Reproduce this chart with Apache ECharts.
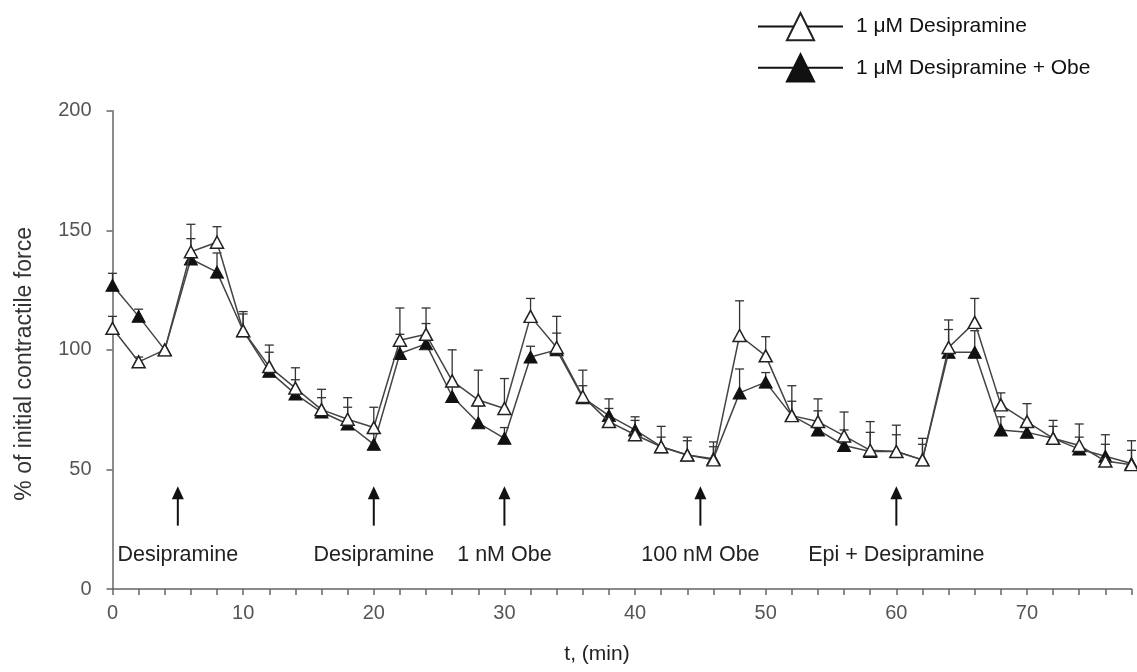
<!DOCTYPE html>
<html>
<head>
<meta charset="utf-8">
<title>Contractile force</title>
<script src="https://cdn.jsdelivr.net/npm/echarts@6/dist/echarts.min.js"></script>
<style>
  html, body { margin: 0; padding: 0; background: #fff; }
  #chart { width: 1137px; height: 672px; }
</style>
</head>
<body>
<div id="chart"></div>
<script>
// Sampling times, minutes
const times = [0, 2, 4, 6, 8, 10, 12, 14, 16, 18, 20, 22, 24, 26, 28, 30, 32, 34, 36, 38,
               40, 42, 44, 46, 48, 50, 52, 54, 56, 58, 60, 62, 64, 66, 68, 70, 72, 74, 76, 78];

// Mean contractile force, % of initial
const desipramine = [109, 95, 100, 141, 145, 108, 93, 84, 75, 71, 67.5, 104, 106.5, 87, 79, 75.5, 114, 101, 80.5, 70,
                     64.5, 59.5, 56, 54, 106, 97.5, 72.5, 70, 64, 58, 57.5, 54, 101, 111.5, 77, 70, 63, 60, 53.5, 52];
const desipramineObe = [127, 114, 100, 138, 132.5, 108, 91, 81.5, 74, 69, 60.5, 98.5, 102.5, 80.5, 69.5, 63, 97, 100, 80, 72.5,
                        66.5, 59.5, 56, 54.5, 82, 86.5, 72.5, 66.5, 60, 57.5, 57.5, 54, 99, 99, 66.5, 65.5, 63, 58.5, 55.5, 52.5];

// Standard error of the mean (upper whiskers)
const desipramineSem = [5, 2, 0, 11.5, 6.5, 8, 9, 8.5, 8.5, 9, 8.5, 13.5, 11, 13, 12.5, 12.5, 7.5, 13, 11, 9.5,
                        7.5, 8.5, 7.5, 7.5, 14.5, 8, 12.5, 9.5, 10, 12, 11, 9, 11.5, 10, 5, 7.5, 7.5, 9, 11, 10];
const desipramineObeSem = [5, 3, 0, 8.5, 8, 7, 8, 6, 6, 7, 4.5, 8, 8.5, 6, 7, 4.5, 4.5, 7, 5, 3,
                           4, 4, 6, 5, 10, 4, 6, 8, 6.5, 8, 7, 6.5, 9.5, 9, 5.5, 4, 5, 5, 5, 5.5];

// Drug additions
const eventTimes = [5, 20, 30, 45, 60];
const eventLabels = ['Desipramine', 'Desipramine', '1 nM Obe', '100 nM Obe', 'Epi + Desipramine'];

const seriesNames = ['1 \u03bcM Desipramine', '1 \u03bcM Desipramine + Obe'];
const yTicks = [0, 50, 100, 150, 200];

const FONT = '"Liberation Sans", Arial, Helvetica, sans-serif';

function pairs(values) {
  return times.map((t, i) => [t, values[i]]);
}

function errorBars(name, values, sems, z) {
  return {
    type: 'custom',
    name: name,
    z: z,
    silent: true,
    data: times.map((t, i) => [t, values[i], sems[i]]),
    renderItem: function (params, api) {
      const e = api.value(2);
      if (!e) return null;
      const base = api.coord([api.value(0), api.value(1)]);
      const top = api.coord([api.value(0), api.value(1) + e]);
      const half = 4.5;
      const style = { stroke: '#333', lineWidth: 1.3 };
      return {
        type: 'group',
        children: [
          { type: 'line', shape: { x1: base[0], y1: base[1], x2: top[0], y2: top[1] }, style: style },
          { type: 'line', shape: { x1: top[0] - half, y1: top[1], x2: top[0] + half, y2: top[1] }, style: style }
        ]
      };
    }
  };
}

const chart = echarts.init(document.getElementById('chart'), null, { renderer: 'canvas' });

chart.setOption({
  animation: false,
  backgroundColor: '#fff',
  textStyle: { fontFamily: FONT },
  grid: { left: 112.5, right: 5.5, top: 110.7, bottom: 83 },
  legend: {
    orient: 'vertical',
    left: 752,
    top: 7,
    itemWidth: 85,
    itemHeight: 34,
    itemGap: 12,
    selectedMode: false,
    data: seriesNames,
    lineStyle: { color: '#111', width: 2 },
    textStyle: { fontSize: 21, color: '#111', fontFamily: FONT, padding: [0, 0, 0, 8] }
  },
  xAxis: {
    type: 'value',
    min: 0,
    max: 78,
    interval: 2,
    name: 't, (min)',
    nameLocation: 'middle',
    nameGap: 55,
    nameTextStyle: { fontSize: 21, color: '#222', fontFamily: FONT, padding: [0, 50, 0, 0] },
    axisLine: { lineStyle: { color: '#666', width: 1.5 } },
    axisTick: { length: 6, lineStyle: { color: '#666', width: 1.5 } },
    axisLabel: {
      fontSize: 20, color: '#555', margin: 14, fontFamily: FONT,
      formatter: v => (v % 10 === 0 ? String(v) : '')
    },
    splitLine: { show: false }
  },
  yAxis: {
    type: 'value',
    min: yTicks[0],
    max: yTicks[yTicks.length - 1],
    interval: yTicks[1] - yTicks[0],
    name: '% of initial contractile force',
    nameLocation: 'middle',
    nameRotate: 90,
    nameGap: 76,
    nameTextStyle: { fontSize: 23, color: '#333', fontFamily: FONT, padding: [0, 28, 0, 0] },
    axisLine: { show: true, lineStyle: { color: '#666', width: 1.5 } },
    axisTick: { show: true, length: 6, lineStyle: { color: '#666', width: 1.5 } },
    axisLabel: { fontSize: 20, color: '#555', margin: 21, fontFamily: FONT },
    splitLine: { show: false }
  },
  series: [
    errorBars('sem-obe', desipramineObe, desipramineObeSem, 2),
    errorBars('sem-des', desipramine, desipramineSem, 2),
    {
      type: 'line',
      name: seriesNames[1],
      data: pairs(desipramineObe),
      z: 3,
      symbol: 'triangle',
      symbolSize: [13, 12],
      showAllSymbol: true,
      lineStyle: { color: '#444', width: 1.5 },
      itemStyle: { color: '#111', borderColor: '#111', borderWidth: 1 },
      emphasis: { disabled: true }
    },
    {
      type: 'line',
      name: seriesNames[0],
      data: pairs(desipramine),
      z: 4,
      symbol: 'triangle',
      symbolSize: [13, 12],
      showAllSymbol: true,
      lineStyle: { color: '#444', width: 1.5 },
      itemStyle: { color: '#fff', borderColor: '#222', borderWidth: 1.5 },
      emphasis: { disabled: true }
    },
    {
      type: 'custom',
      name: 'events',
      z: 5,
      silent: true,
      data: eventTimes.map((t, i) => [t, i]),
      renderItem: function (params, api) {
        const t = api.value(0);
        const idx = api.value(1);
        const tip = api.coord([t, 43]);
        const base = api.coord([t, 26.5]);
        const txt = api.coord([t, 14.2]);
        const headH = 13, headW = 6;
        return {
          type: 'group',
          children: [
            { type: 'line', shape: { x1: base[0], y1: base[1], x2: tip[0], y2: tip[1] + headH - 1 },
              style: { stroke: '#111', lineWidth: 2 } },
            { type: 'polygon', shape: { points: [[tip[0], tip[1]], [tip[0] - headW, tip[1] + headH], [tip[0] + headW, tip[1] + headH]] },
              style: { fill: '#111' } },
            { type: 'text', x: txt[0], y: txt[1],
              style: { text: eventLabels[idx], fill: '#222', fontSize: 21.5, fontFamily: FONT,
                       align: 'center', verticalAlign: 'middle' } }
          ]
        };
      }
    }
  ]
});
</script>
</body>
</html>
